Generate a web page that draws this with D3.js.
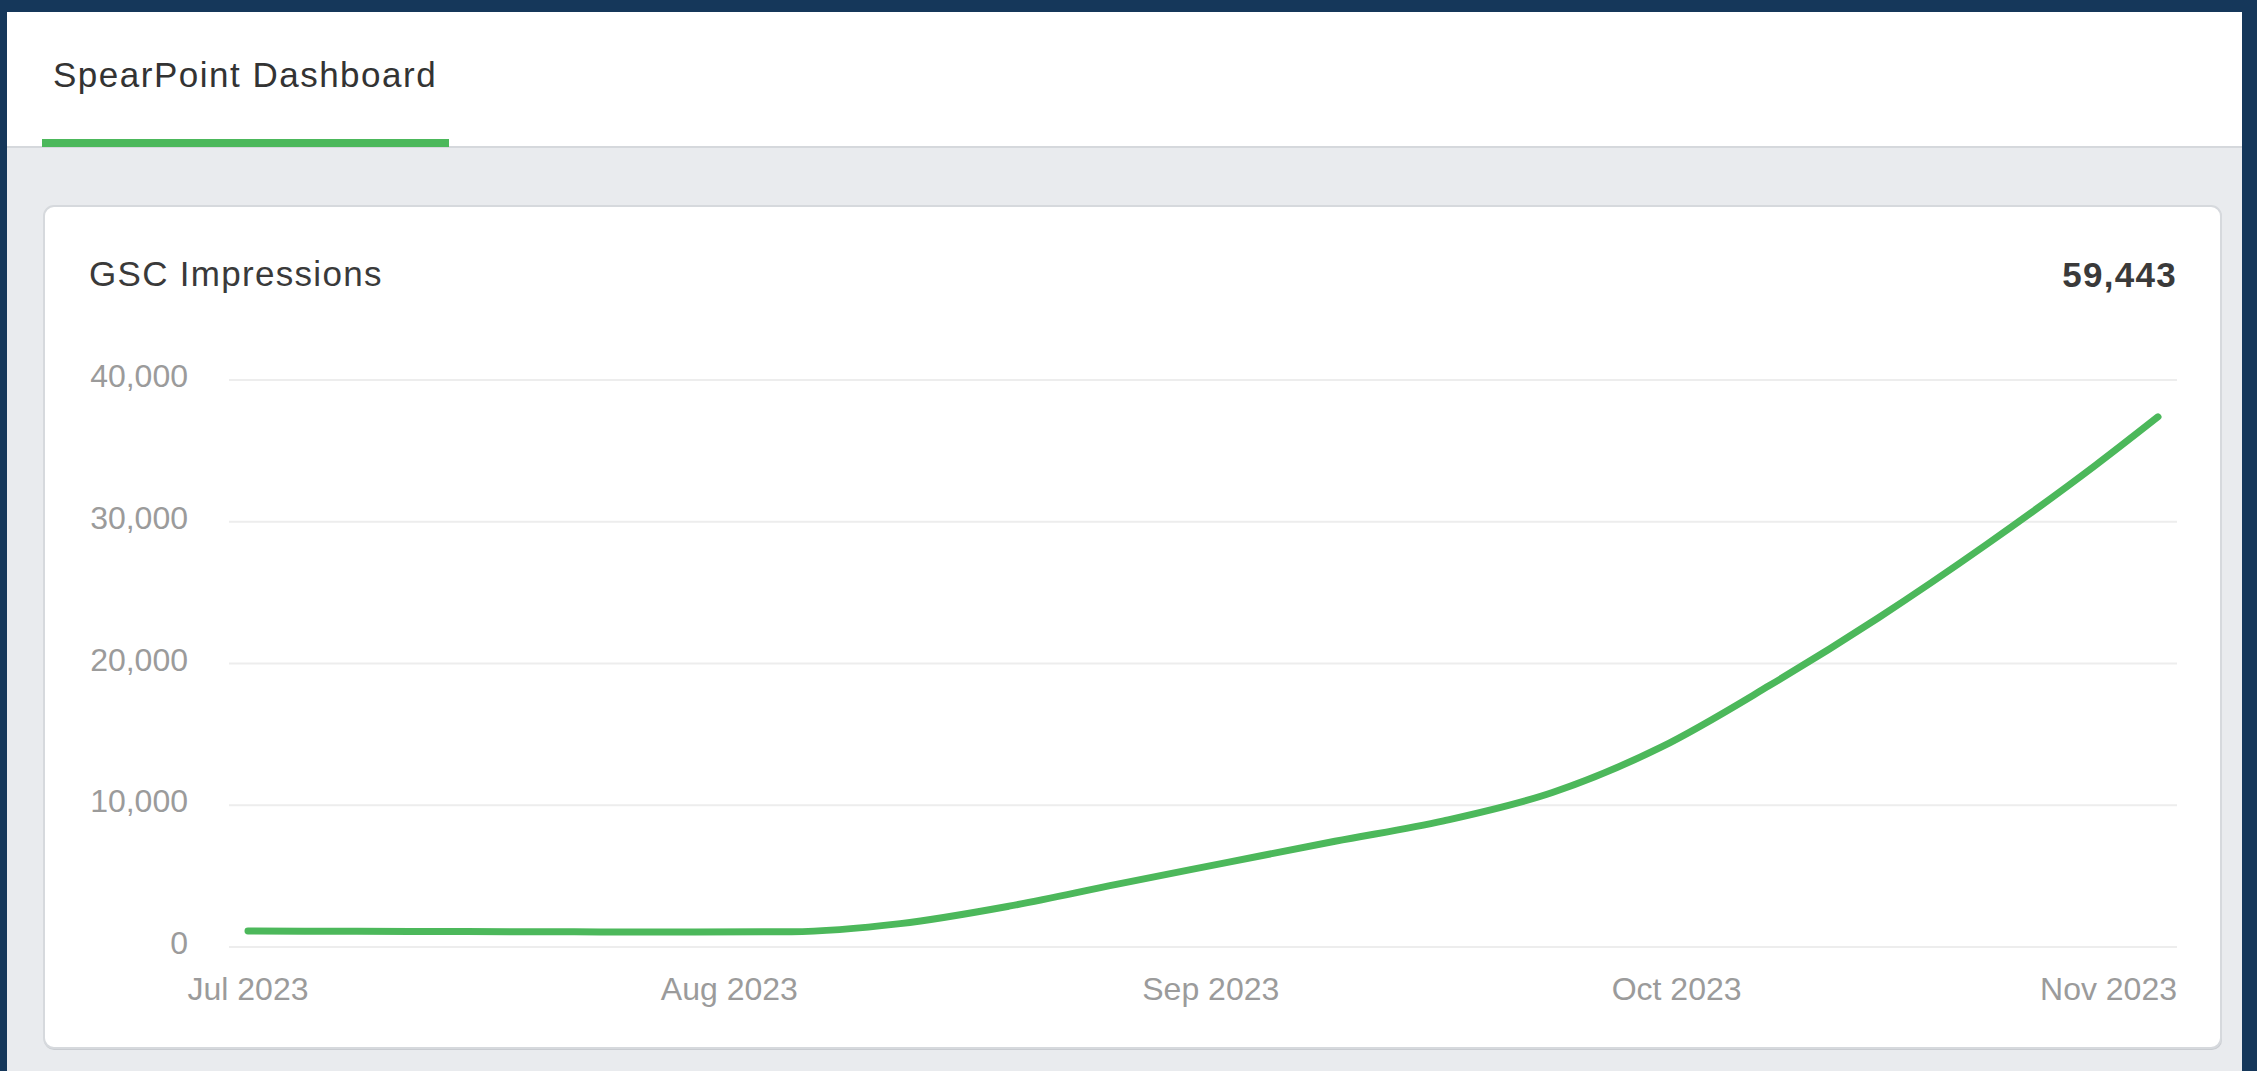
<!DOCTYPE html>
<html>
<head>
<meta charset="utf-8">
<script src="https://cdn.jsdelivr.net/npm/d3@7"></script>
<style>
  html, body { margin: 0; padding: 0; background: #15375a; }
  svg { display: block; }
  text { font-family: "Liberation Sans", Arial, Helvetica, sans-serif; }
</style>
</head>
<body>
<svg id="chart" width="2257" height="1071"></svg>
<script>
// ---- data ----
const pageTitle = "SpearPoint Dashboard";
const cardTitle = "GSC Impressions";
const totalValue = 59443;

const dates = [
  "2023-07-01","2023-07-08","2023-07-15","2023-07-22","2023-07-29",
  "2023-08-05","2023-08-12","2023-08-19","2023-08-26",
  "2023-09-02","2023-09-09","2023-09-16","2023-09-23","2023-09-30",
  "2023-10-07","2023-10-14","2023-10-21","2023-10-28","2023-11-01"
];
const impressions = [
  1130, 1110, 1090, 1070, 1060,
  1080, 1650, 2880, 4440,
  5950, 7460, 8900, 10900, 14100,
  18460, 23230, 28430, 34000, 37400
];
const yTickValues = [0, 10000, 20000, 30000, 40000];
const monthTicks = ["2023-07-01","2023-08-01","2023-09-01","2023-10-01","2023-11-01"];

// ---- layout ----
const W = 2257, H = 1071;
const svg = d3.select("#chart");
const parse = d3.timeParse("%Y-%m-%d");

// page background
svg.append("rect").attr("x", 7).attr("y", 12).attr("width", 2235).attr("height", H - 12).attr("fill", "#e9ebee");
// header
svg.append("rect").attr("x", 7).attr("y", 12).attr("width", 2235).attr("height", 135).attr("fill", "#ffffff");
svg.append("rect").attr("x", 7).attr("y", 146).attr("width", 2235).attr("height", 2).attr("fill", "#d5d8dc");
svg.append("rect").attr("x", 42).attr("y", 139).attr("width", 407).attr("height", 8).attr("fill", "#4cb85b");
svg.append("text").attr("x", 53).attr("y", 87)
  .attr("font-size", 35).attr("letter-spacing", 1.5).attr("fill", "#333333")
  .text(pageTitle);

// card
svg.append("rect").attr("x", 44).attr("y", 207).attr("width", 2178).attr("height", 843)
  .attr("rx", 10).attr("fill", "#c9ccd1");
svg.append("rect").attr("x", 44).attr("y", 206).attr("width", 2177).attr("height", 842)
  .attr("rx", 10).attr("fill", "#ffffff").attr("stroke", "#d6d9dd").attr("stroke-width", 2);

svg.append("text").attr("x", 89).attr("y", 286)
  .attr("font-size", 35).attr("letter-spacing", 1.3).attr("fill", "#3a3a3a")
  .text(cardTitle);
svg.append("text").attr("x", 2177).attr("y", 287).attr("text-anchor", "end")
  .attr("font-size", 35).attr("font-weight", "bold").attr("letter-spacing", 1.3).attr("fill", "#3a3a3a")
  .text(d3.format(",")(totalValue));

// scales
const gridLeft = 229, gridRight = 2177;
const x = d3.scaleTime()
  .domain([parse(dates[0]), parse(dates[dates.length - 1])])
  .range([248, 2158]);
const y = d3.scaleLinear().domain([0, 40000]).range([947, 380]);

// grid lines
svg.append("g").selectAll("line").data(yTickValues).join("line")
  .attr("x1", gridLeft).attr("x2", gridRight)
  .attr("y1", d => y(d)).attr("y2", d => y(d))
  .attr("stroke", "#ededed").attr("stroke-width", 2);

// y labels
svg.append("g").selectAll("text").data(yTickValues).join("text")
  .attr("x", 188).attr("y", d => y(d) - 4).attr("dy", "0.35em")
  .attr("text-anchor", "end").attr("font-size", 32).attr("fill", "#9b9b9b")
  .text(d => d3.format(",")(d));

// x labels
const fmt = d3.timeFormat("%b %Y");
svg.append("g").selectAll("text").data(monthTicks).join("text")
  .attr("font-size", 32).attr("fill", "#9b9b9b")
  .attr("y", 1000)
  .text(d => fmt(parse(d)))
  .each(function(d) {
    const el = d3.select(this);
    const cx = x(parse(d));
    const w = this.getComputedTextLength();
    if (cx + w / 2 > gridRight) {
      el.attr("x", gridRight).attr("text-anchor", "end");
    } else {
      el.attr("x", cx).attr("text-anchor", "middle");
    }
  });

// line
const line = d3.line()
  .x((d, i) => x(parse(dates[i])))
  .y(d => y(d))
  .curve(d3.curveMonotoneX);
svg.append("path").datum(impressions)
  .attr("d", line)
  .attr("fill", "none").attr("stroke", "#4cb85b").attr("stroke-width", 7)
  .attr("stroke-linecap", "round").attr("stroke-linejoin", "round");
</script>
</body>
</html>
